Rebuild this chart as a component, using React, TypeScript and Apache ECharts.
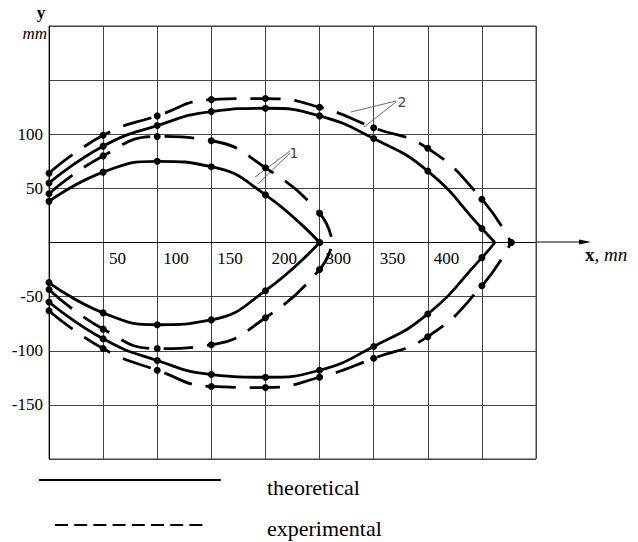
import React, { useEffect, useRef } from "react";
import * as echarts from "echarts";

// Tick labels (one per grid line from x = 0 to 450 in steps of 50)
const xTickLabels = ["", "50", "100", "150", "200", "300", "350", "400", "", ""];
const yTickValues = [100, 50, -50, -100, -150];

// Curve 1 — theoretical (inner, solid)
const innerTheoX = [0, 50, 100, 150, 200, 250];
const innerTheoUpper = [38, 65, 75, 70, 44, 0];
const innerTheoLower = [-37, -65, -76, -71.5, -44.5, 0];
const innerTheoTipDot = true;

// Curve 1 — experimental (inner, dashed)
const innerExpX = [0, 50, 100, 150, 200, 250, 262];
const innerExpUpper = [45, 80, 98, 94, 69, 27, 0];
const innerExpLower = [-43.5, -80, -98, -94.5, -69.5, -25, 0];
const innerExpTipDot = false;

// Curve 2 — theoretical (outer, solid)
const outerTheoX = [0, 50, 100, 150, 200, 250, 300, 350, 400, 412];
const outerTheoUpper = [55, 89, 108, 121, 124, 117, 96, 66, 13, 0];
const outerTheoLower = [-55, -89, -109, -122, -124.5, -118, -96, -66, -14, 0];
const outerTheoTipDot = false;

// Curve 2 — experimental (outer, dashed)
const outerExpX = [0, 50, 100, 150, 200, 250, 300, 350, 400, 427];
const outerExpUpper = [64, 99, 117, 132, 133, 125, 106, 87, 40, 0];
const outerExpLower = [-63, -98, -118, -133, -134, -124.5, -107, -87, -40, 0];
const outerExpTipDot = true;

const legendNames = ["theoretical", "experimental"];

const SERIF = "Liberation Serif";

function makeSeries(name: string, xs: number[], ys: number[], dashed: boolean, tipDot: boolean) {
  return {
    type: "line",
    name,
    smooth: 0.5,
    symbol: "circle",
    symbolSize: 7,
    itemStyle: { color: "#000" },
    lineStyle: {
      color: "#000",
      width: 2.8,
      type: dashed ? [30, 14] : "solid",
    },
    emphasis: { disabled: true },
    data: xs.map((x, i) => {
      const isTip = i === xs.length - 1;
      if (isTip && !tipDot) return { value: [x, ys[i]], symbol: "none" };
      return [x, ys[i]];
    }),
  };
}

export default function App() {
  const ref = useRef<HTMLDivElement>(null);
  useEffect(() => {
    if (!ref.current) return;
    const chart = echarts.init(ref.current, undefined, { renderer: "svg" });
    const option: any = {
      animation: false,
      backgroundColor: "#fff",
      grid: {
        left: 49,
        top: 26,
        width: 487,
        height: 433,
        show: true,
        borderColor: "#444",
        borderWidth: 1,
        backgroundColor: "transparent",
      },
      xAxis: {
        type: "value",
        position: "bottom",
        offset: -216.5,
        min: 0,
        max: 450,
        interval: 50,
        axisLine: { show: true, onZero: false, lineStyle: { color: "#000", width: 1 } },
        axisTick: { show: false },
        splitLine: { show: true, lineStyle: { color: "#444", width: 1 } },
        axisLabel: {
          formatter: (v: number) => xTickLabels[Math.round(v / 50)] ?? "",
          fontFamily: SERIF,
          fontSize: 17,
          color: "#000",
          align: "left",
          padding: [0, 0, 0, 6],
          margin: 7,
        },
      },
      yAxis: {
        type: "value",
        min: -200,
        max: 200,
        interval: 50,
        axisLine: { show: true, onZero: false, lineStyle: { color: "#000", width: 1 } },
        axisTick: { show: false },
        splitLine: { show: true, lineStyle: { color: "#444", width: 1 } },
        axisLabel: {
          formatter: (v: number) => (yTickValues.includes(v) ? String(v) : ""),
          fontFamily: SERIF,
          fontSize: 17,
          color: "#000",
          margin: 6,
        },
      },
      graphic: [
        // x-axis extension with arrow
        { type: "line", shape: { x1: 536, y1: 242, x2: 586, y2: 242 }, style: { stroke: "#000", lineWidth: 1 } },
        { type: "polygon", shape: { points: [[591, 242], [579, 239.5], [579, 244.5]] }, style: { fill: "#000" } },
        {
          type: "text",
          x: 585,
          y: 254,
          style: {
            text: "{b|x}{i|, mn}",
            verticalAlign: "middle",
            rich: {
              b: { fontFamily: SERIF, fontWeight: "bold", fontSize: 19, fill: "#000" },
              i: { fontFamily: SERIF, fontStyle: "italic", fontSize: 19, fill: "#000" },
            },
          },
        },
        {
          type: "text",
          x: 41,
          y: 12,
          style: { text: "y", fontFamily: SERIF, fontWeight: "bold", fontSize: 17, fill: "#000", align: "center", verticalAlign: "middle" },
        },
        {
          type: "text",
          x: 47,
          y: 33,
          style: { text: "mm", fontFamily: SERIF, fontStyle: "italic", fontSize: 17, fill: "#000", align: "right", verticalAlign: "middle" },
        },
        // label 1 with leaders
        { type: "line", shape: { x1: 290, y1: 151, x2: 255, y2: 177 }, style: { stroke: "#444", lineWidth: 0.8 } },
        { type: "line", shape: { x1: 290, y1: 153, x2: 258, y2: 184 }, style: { stroke: "#444", lineWidth: 0.8 } },
        {
          type: "text",
          x: 294,
          y: 153,
          style: { text: "1", fontFamily: "DejaVu Sans", fontSize: 14, fill: "#444", align: "center", verticalAlign: "middle" },
        },
        // label 2 with leaders
        { type: "line", shape: { x1: 396, y1: 101, x2: 351, y2: 112 }, style: { stroke: "#444", lineWidth: 0.8 } },
        { type: "line", shape: { x1: 396, y1: 102, x2: 364, y2: 127 }, style: { stroke: "#444", lineWidth: 0.8 } },
        {
          type: "text",
          x: 402,
          y: 102,
          style: { text: "2", fontFamily: "DejaVu Sans", fontSize: 14, fill: "#444", align: "center", verticalAlign: "middle" },
        },
        // legend
        { type: "line", shape: { x1: 39, y1: 480, x2: 221, y2: 480 }, style: { stroke: "#000", lineWidth: 2 } },
        {
          type: "text",
          x: 267,
          y: 487.5,
          style: { text: legendNames[0], fontFamily: SERIF, fontSize: 22, fill: "#000", align: "left", verticalAlign: "middle" },
        },
        {
          type: "line",
          shape: { x1: 55, y1: 525, x2: 205, y2: 525 },
          style: { stroke: "#000", lineWidth: 2, lineDash: [13, 6.2] },
        },
        {
          type: "text",
          x: 267,
          y: 528.5,
          style: { text: legendNames[1], fontFamily: SERIF, fontSize: 22, fill: "#000", align: "left", verticalAlign: "middle" },
        },
      ],
      series: [
        makeSeries(legendNames[0], innerTheoX, innerTheoUpper, false, innerTheoTipDot),
        makeSeries(legendNames[0], innerTheoX, innerTheoLower, false, innerTheoTipDot),
        makeSeries(legendNames[1], innerExpX, innerExpUpper, true, innerExpTipDot),
        makeSeries(legendNames[1], innerExpX, innerExpLower, true, innerExpTipDot),
        makeSeries(legendNames[0], outerTheoX, outerTheoUpper, false, outerTheoTipDot),
        makeSeries(legendNames[0], outerTheoX, outerTheoLower, false, outerTheoTipDot),
        makeSeries(legendNames[1], outerExpX, outerExpUpper, true, outerExpTipDot),
        makeSeries(legendNames[1], outerExpX, outerExpLower, true, outerExpTipDot),
      ],
    };
    chart.setOption(option);
    return () => chart.dispose();
  }, []);
  return (
    <div
      ref={ref}
      style={{ position: "fixed", left: 0, top: 0, width: 638, height: 542, background: "#fff" }}
    />
  );
}
